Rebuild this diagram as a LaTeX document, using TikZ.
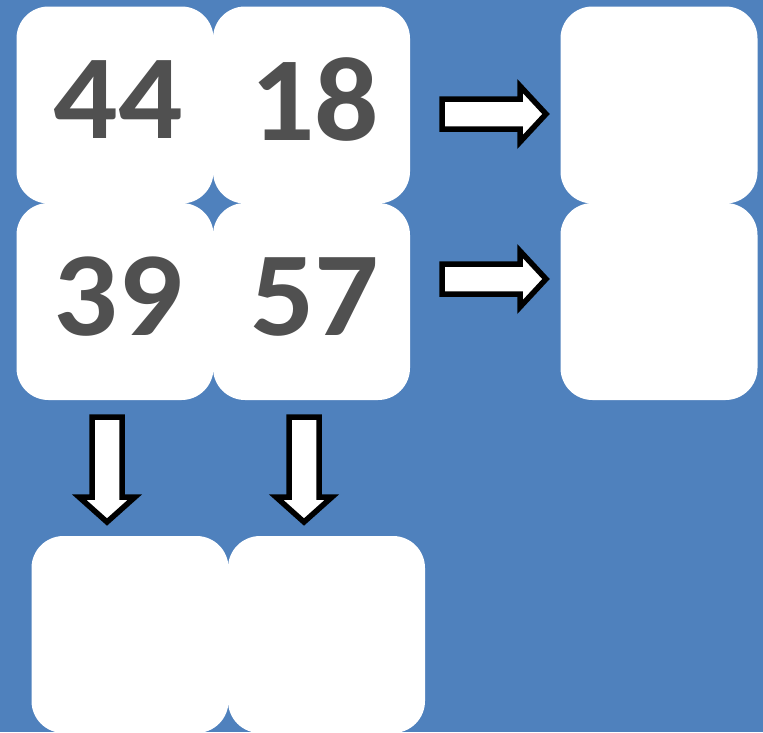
\documentclass[tikz,border=0pt]{standalone}
\usepackage{fontspec}
\setmainfont{Carlito}
\definecolor{bgblue}{HTML}{4F81BD}
\definecolor{numgray}{HTML}{505050}
\begin{document}
\begin{tikzpicture}[x=1pt,y=-1pt,
  card/.style={fill=white, draw=none, rounded corners=32pt, minimum width=197pt, minimum height=197pt, inner sep=0pt, outer sep=0pt},
  num/.style={text=numgray, font=\fontsize{120}{120}\selectfont\bfseries, inner sep=0pt, xscale=1.06},
  blockarrow/.style={fill=white, draw=black, line width=5.5pt, line join=miter}]
\fill[bgblue] (0,0) rectangle (763,732);
\useasboundingbox (0,0) rectangle (763,732);
% top-left grid
\node[card] (c1) at (115,105) {};
\node[card] (c2) at (311.5,105) {};
\node[card] (c3) at (115,301.5) {};
\node[card] (c4) at (311.5,301.5) {};
% right column
\node[card] (r1) at (659,105) {};
\node[card] (r2) at (659,301.5) {};
% bottom row
\node[card] (b1) at (130,634.5) {};
\node[card] (b2) at (326.5,634.5) {};
% numbers
\node[num] (n1) at ([xshift=3pt,yshift=5pt]c1.center) {44};
\node[num] (n2) at ([xshift=3pt,yshift=5pt]c2.center) {18};
\node[num] (n3) at ([xshift=3pt,yshift=5pt]c3.center) {39};
\node[num] (n4) at ([xshift=3pt,yshift=5pt]c4.center) {57};
% right block arrows
\draw[blockarrow] (442,99) -- (520,99) -- (520,86) -- (546,114) -- (520,142) -- (520,129) -- (442,129) -- cycle;
\draw[blockarrow] (442,264) -- (520,264) -- (520,251) -- (546,279) -- (520,307) -- (520,294) -- (442,294) -- cycle;
% down block arrows
\draw[blockarrow] (92,417) -- (122,417) -- (122,497) -- (135,497) -- (107,522) -- (79,497) -- (92,497) -- cycle;
\draw[blockarrow] (289,417) -- (319,417) -- (319,497) -- (332,497) -- (304,522) -- (276,497) -- (289,497) -- cycle;
\end{tikzpicture}
\end{document}
